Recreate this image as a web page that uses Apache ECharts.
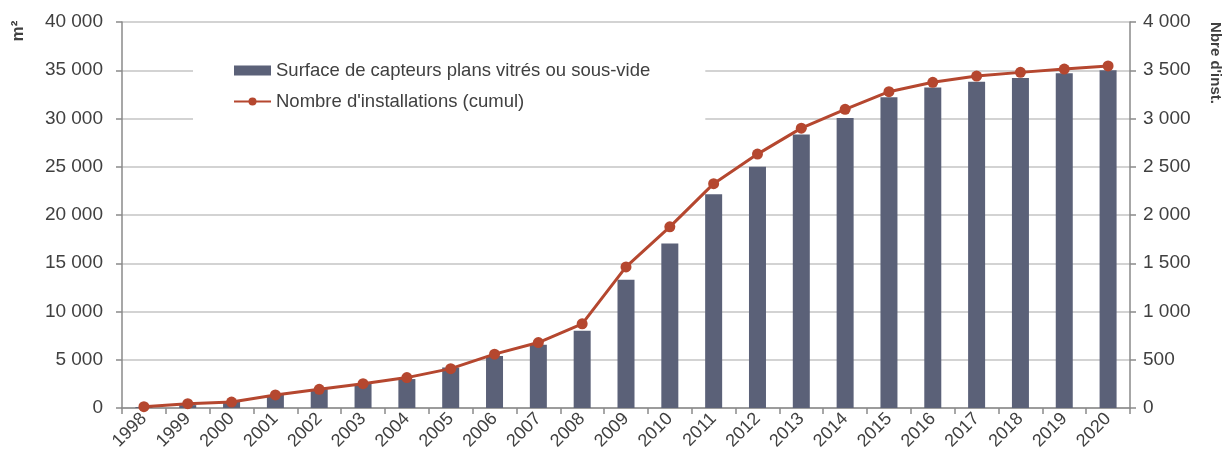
<!DOCTYPE html>
<html>
<head>
<meta charset="utf-8">
<script src="https://cdn.jsdelivr.net/npm/echarts@6/dist/echarts.min.js"></script>
<style>
html,body{margin:0;padding:0;background:#fff;}
#c{width:1228px;height:465px;}
</style>
</head>
<body>
<div id="c"></div>
<script>
const years = ['1998','1999','2000','2001','2002','2003','2004','2005','2006','2007','2008','2009','2010','2011','2012','2013','2014','2015','2016','2017','2018','2019','2020'];
const surface = [100, 300, 700, 1350, 1950, 2500, 3000, 4200, 5400, 6550, 8000, 13300, 17050, 22150, 25000, 28350, 30050, 32200, 33200, 33800, 34200, 34700, 35000];
const installations = [14, 45, 62, 135, 194, 252, 315, 408, 558, 678, 872, 1462, 1877, 2325, 2631, 2900, 3095, 3278, 3375, 3440, 3478, 3512, 3545];
const leftTicks = [0, 40000, 5000];
const rightTicks = [0, 4000, 500];
const seriesNames = ['Surface de capteurs plans vitrés ou sous-vide', "Nombre d'installations (cumul)"];

const fmt = v => String(v).replace(/\B(?=(\d{3})+(?!\d))/g, ' ');
const txt = '#404040';
const font = 'Liberation Sans, Arial, sans-serif';

const chart = echarts.init(document.getElementById('c'));
chart.setOption({
  animation: false,
  backgroundColor: '#fff',
  textStyle: { fontFamily: font },
  grid: { left: 122, right: 98, top: 22, bottom: 57 },
  legend: {
    orient: 'vertical',
    left: 193,
    top: 51,
    backgroundColor: '#fff',
    padding: [10, 55, 13, 40],
    itemGap: 12,
    itemWidth: 37,
    itemHeight: 10,
    textStyle: { fontSize: 18.5, color: txt, fontFamily: font },
    data: [
      { name: seriesNames[0], icon: 'rect' },
      { name: seriesNames[1] }
    ]
  },
  xAxis: {
    type: 'category',
    data: years,
    axisLine: { lineStyle: { color: '#8a8a8a', width: 1.5 } },
    axisTick: { show: true, length: 6, lineStyle: { color: '#8a8a8a', width: 1.5 } },
    axisLabel: { rotate: 45, fontSize: 18, color: txt, margin: 8, fontFamily: font }
  },
  yAxis: [
    {
      type: 'value', min: leftTicks[0], max: leftTicks[1], interval: leftTicks[2],
      axisLine: { show: true, lineStyle: { color: '#8a8a8a', width: 1.5 } },
      axisTick: { show: true, length: 6, lineStyle: { color: '#8a8a8a', width: 1.5 } },
      splitLine: { lineStyle: { color: '#c4c4c4', width: 1.5 } },
      axisLabel: { formatter: fmt, fontSize: 19, color: txt, margin: 19, fontFamily: font }
    },
    {
      type: 'value', min: rightTicks[0], max: rightTicks[1], interval: rightTicks[2],
      position: 'right',
      axisLine: { show: true, lineStyle: { color: '#8a8a8a', width: 1.5 } },
      axisTick: { show: true, length: 6, lineStyle: { color: '#8a8a8a', width: 1.5 } },
      splitLine: { show: false },
      axisLabel: { formatter: fmt, fontSize: 19, color: txt, margin: 13, fontFamily: font }
    }
  ],
  graphic: [
    { type: 'text', x: 18, y: 31, rotation: Math.PI / 2,
      style: { text: 'm²', font: 'bold 17px ' + font, fill: txt, align: 'center', verticalAlign: 'middle' } },
    { type: 'text', x: 1215, y: 63, rotation: -Math.PI / 2,
      style: { text: "Nbre d'inst.", font: 'bold 15px ' + font, fill: txt, align: 'center', verticalAlign: 'middle' } }
  ],
  series: [
    {
      name: seriesNames[0], type: 'bar', data: surface, yAxisIndex: 0,
      barWidth: 17,
      itemStyle: { color: '#5b6178' }
    },
    {
      name: seriesNames[1], type: 'line', data: installations, yAxisIndex: 1,
      symbol: 'circle', symbolSize: 11,
      lineStyle: { color: '#b5472f', width: 3 },
      itemStyle: { color: '#b5472f' }
    }
  ]
});
</script>
</body>
</html>
